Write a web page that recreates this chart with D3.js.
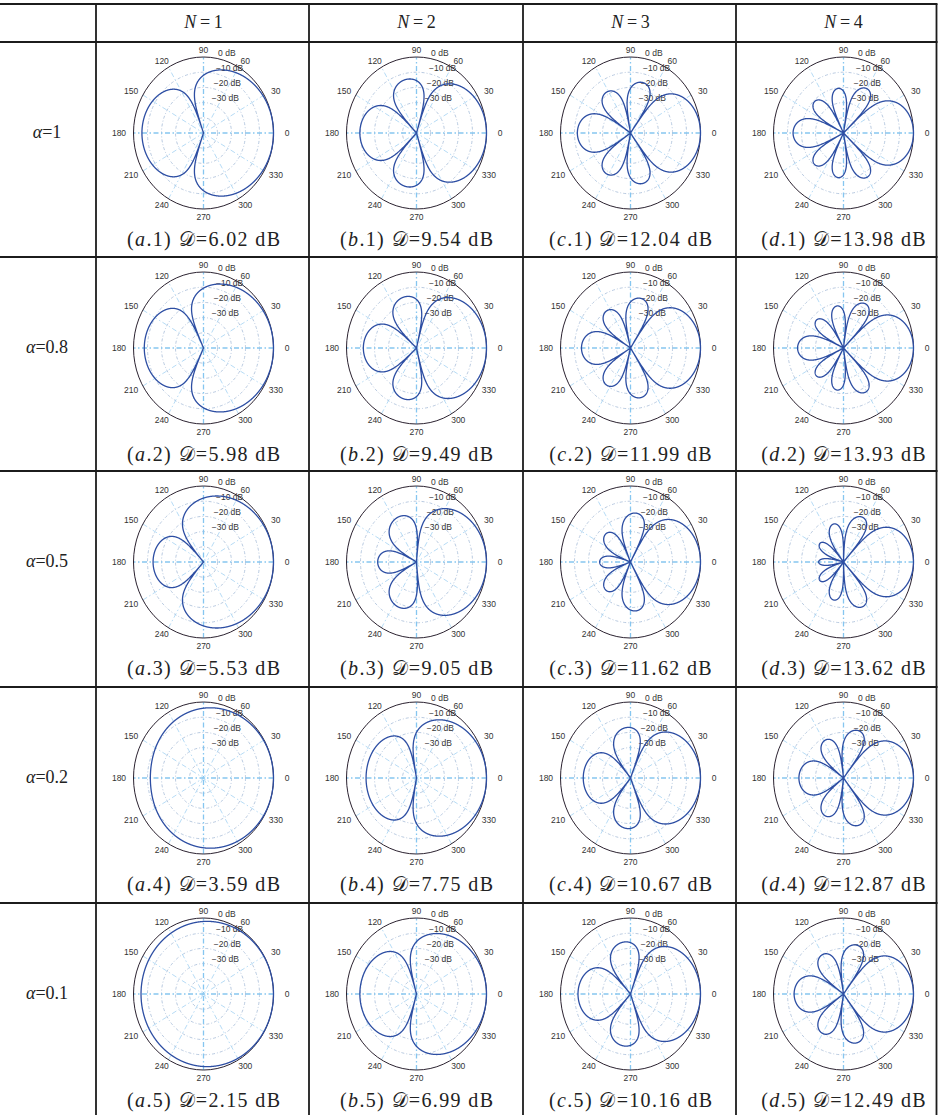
<!DOCTYPE html>
<html><head><meta charset="utf-8">
<script src="https://cdn.jsdelivr.net/npm/d3@7"></script>
<style>body{margin:0;background:#fff} svg{display:block}</style>
</head><body>
<svg id="chart" width="938" height="1115"></svg>
<script>
// ---------------- data ----------------
const orders = [1, 2, 3, 4];                       // columns: N
const alphas = [1, 0.8, 0.5, 0.2, 0.1];            // rows: alpha
const alphaLabels = ["1", "0.8", "0.5", "0.2", "0.1"];
const panelLetters = ["a", "b", "c", "d"];
// directivity factor printed under each panel (dB), one array per column
const dN1 = ["6.02", "5.98", "5.53", "3.59", "2.15"];
const dN2 = ["9.54", "9.49", "9.05", "7.75", "6.99"];
const dN3 = ["12.04", "11.99", "11.62", "10.67", "10.16"];
const dN4 = ["13.98", "13.93", "13.62", "12.87", "12.49"];
const dCols = [dN1, dN2, dN3, dN4];
const angleTicks = [0, 30, 60, 90, 120, 150, 180, 210, 240, 270, 300, 330];
const spokeAngles = [30, 60, 90, 120, 150, 180];
const dbTickLabels = [0, -10, -20, -30];
const ringLevels = [-10, -20, -30, -40];
const dbRange = [-50, 0];

// ---------------- layout ----------------
const W = 938, H = 1115;
const colLefts = [96, 309, 523, 736];
const tableRight = 936.5;
const headerTop = 4;
const rowTops = [42, 257, 471, 687, 903];
const Rh = 70, Rv = 76;          // polar plot radii (plot is slightly stretched vertically)
const labelR = 83.5;

const svg = d3.select("#chart");
const rX = d3.scaleLinear().domain(dbRange).range([0, Rh]).clamp(true);
const rY = d3.scaleLinear().domain(dbRange).range([0, Rv]).clamp(true);
const rad = d => d * Math.PI / 180;

// beampattern of order N with Legendre weights, last term scaled by alpha
function pattern(N, a, x) {
  const w = n => (n < N ? (2 * n + 1) : a * (2 * n + 1));
  let pm = 1, pc = x, s = w(0) + w(1) * x;
  for (let n = 1; n < N; n++) {
    const pn = ((2 * n + 1) * x * pc - n * pm) / (n + 1);
    pm = pc; pc = pn; s += w(n + 1) * pn;
  }
  return s;
}
const thetas = d3.range(0, 360.001, 0.2);

// ---------------- table grid ----------------
const grid = svg.append("g").attr("stroke", "#1c1c1c").attr("stroke-width", 1.8);
[headerTop, ...rowTops].forEach(y => grid.append("line").attr("x1", 0).attr("x2", tableRight + 1).attr("y1", y).attr("y2", y));
[...colLefts, tableRight].forEach(x => grid.append("line").attr("x1", x).attr("x2", x).attr("y1", headerTop).attr("y2", H));

const serif = "'Liberation Serif','Times New Roman',serif";
const sans = "'Liberation Sans',Arial,Helvetica,sans-serif";

// header
orders.forEach((N, j) => {
  const t = svg.append("text").attr("x", colLefts[j] + 107.5).attr("y", 28)
    .attr("text-anchor", "middle").attr("font-family", serif).attr("font-size", 18).attr("fill", "#222");
  t.append("tspan").attr("font-style", "italic").text("N");
  t.append("tspan").text("\u2009=\u2009" + N);
});
// row labels
alphas.forEach((a, i) => {
  const t = svg.append("text").attr("x", 47).attr("y", rowTops[i] + 96)
    .attr("text-anchor", "middle").attr("font-family", serif).attr("font-size", 18).attr("fill", "#222");
  t.append("tspan").attr("font-style", "italic").text("\u03b1");
  t.append("tspan").text("=" + alphaLabels[i]);
});

// ---------------- panels ----------------
const line = d3.line().x(d => d[0]).y(d => d[1]);
const captions = [];

alphas.forEach((a, i) => {
  orders.forEach((N, j) => {
    const cx = colLefts[j] + 107.5, cy = rowTops[i] + 91;
    const g = svg.append("g").attr("transform", `translate(${cx},${cy})`);

    // rings
    g.selectAll("ellipse.ring").data(ringLevels).join("ellipse")
      .attr("rx", d => rX(d)).attr("ry", d => rY(d))
      .attr("fill", "none").attr("stroke", "#a7bcd8").attr("stroke-width", 0.8)
      .attr("stroke-dasharray", "3 2 1 2");
    // spokes
    g.selectAll("line.spoke").data(spokeAngles).join("line")
      .attr("x1", d => -Rh * Math.cos(rad(d))).attr("y1", d => Rv * Math.sin(rad(d)))
      .attr("x2", d => Rh * Math.cos(rad(d))).attr("y2", d => -Rv * Math.sin(rad(d)))
      .attr("stroke", d => (d % 90 === 0 ? "#86c6f0" : "#a3d2f3"))
      .attr("stroke-width", d => (d % 90 === 0 ? 1.3 : 0.8))
      .attr("stroke-dasharray", "5 2.5 1.5 2.5");
    // outer circle
    g.append("ellipse").attr("rx", Rh).attr("ry", Rv).attr("fill", "none")
      .attr("stroke", "#2b2230").attr("stroke-width", 1);
    // angle labels
    g.selectAll("text.ang").data(angleTicks).join("text")
      .attr("x", d => labelR * Math.cos(rad(d)) - (d === 180 ? 1 : 0))
      .attr("y", d => -labelR * Math.sin(rad(d)) + 3)
      .attr("text-anchor", "middle").attr("font-family", sans).attr("font-size", 8.5).attr("fill", "#333")
      .text(d => d);
    // dB labels
    g.selectAll("text.db").data(dbTickLabels).join("text")
      .attr("x", d => rY(d) * Math.cos(rad(82)) + 4)
      .attr("y", d => -rY(d) * Math.sin(rad(82)) - 1.5)
      .attr("font-family", sans).attr("font-size", 8.5).attr("fill", "#333")
      .text(d => (d === 0 ? "0 dB" : "\u2212" + Math.abs(d) + " dB"));

    // beampattern
    const b0 = pattern(N, a, 1);
    const pts = thetas.map(t => {
      const v = Math.abs(pattern(N, a, Math.cos(rad(t))) / b0);
      const db = Math.max(dbRange[0], 20 * Math.log10(v));
      return [rX(db) * Math.cos(rad(t)), -rY(db) * Math.sin(rad(t))];
    });
    g.append("path").attr("d", line(pts)).attr("fill", "none")
      .attr("stroke", "#2d4ea3").attr("stroke-width", 1.3).attr("stroke-linejoin", "round");

    // caption
    const c = svg.append("text").attr("x", cx).attr("y", rowTops[i] + 204)
      .attr("text-anchor", "middle").attr("font-family", serif).attr("font-size", 20).attr("fill", "#222");
    c.append("tspan").text("(");
    c.append("tspan").attr("font-style", "italic").text(panelLetters[j]);
    c.append("tspan").text("." + (i + 1) + ")\u00a0");
    c.append("tspan").text("\ud835\udc9f");
    c.append("tspan").text("=" + dCols[j][i] + "\u00a0dB");
    captions.push(c);
  });
});

// widen captions slightly to the reference's Computer-Modern-like metrics
const base = captions[0].node().getComputedTextLength();
const k = Math.max(1, 153 / base);
captions.forEach(c => {
  const w = c.node().getComputedTextLength();
  c.attr("textLength", w * k).attr("lengthAdjust", "spacing");
});
</script>
</body></html>
